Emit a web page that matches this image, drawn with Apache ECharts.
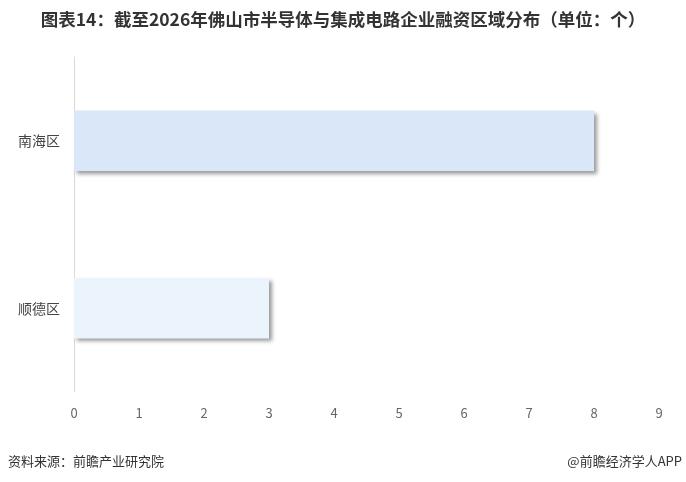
<!DOCTYPE html>
<html>
<head>
<meta charset="utf-8">
<script src="https://cdn.jsdelivr.net/npm/echarts@6/dist/echarts.min.js"></script>
<style>
html,body{margin:0;padding:0;background:#fff;}
#c{width:686px;height:482px;}
</style>
</head>
<body>
<div id="c"></div>
<script>
const categories = ['南海区', '顺德区'];
const values = [8, 3];
const xTicks = [0, 1, 2, 3, 4, 5, 6, 7, 8, 9];
const titleText = '图表14：截至2026年佛山市半导体与集成电路企业融资区域分布（单位：个）';
const sourceText = '资料来源：前瞻产业研究院';
const brandText = '@前瞻经济学人APP';

const barColors = ['#d9e7f9', '#ebf3fd'];
const cjk = '"Noto Sans CJK SC", "Noto Sans", sans-serif';

const chart = echarts.init(document.getElementById('c'));
chart.setOption({
  backgroundColor: '#fff',
  animation: false,
  title: {
    text: titleText,
    left: 'center',
    top: 6,
    textStyle: { fontFamily: cjk, fontSize: 17.5, fontWeight: 'bold', color: '#333' }
  },
  grid: { left: 74, right: 27, top: 57, bottom: 90, containLabel: false },
  xAxis: {
    type: 'value',
    min: xTicks[0],
    max: xTicks[xTicks.length - 1],
    interval: 1,
    axisLine: { show: false },
    axisTick: { show: false },
    splitLine: { show: false },
    axisLabel: { color: '#666', fontSize: 13, margin: 15, fontFamily: cjk }
  },
  yAxis: {
    type: 'category',
    data: categories,
    inverse: true,
    axisLine: { show: true, lineStyle: { color: '#d9d9d9', width: 1 } },
    axisTick: { show: false },
    axisLabel: { color: '#444', fontSize: 14, margin: 14, fontFamily: cjk }
  },
  series: [{
    type: 'bar',
    data: values.map((v, i) => ({ value: v, itemStyle: { color: barColors[i] } })),
    barWidth: '36%',
    itemStyle: {
      shadowColor: 'rgba(0,0,0,0.4)',
      shadowBlur: 4,
      shadowOffsetX: 3,
      shadowOffsetY: 3
    }
  }],
  graphic: [
    { type: 'text', left: 8, top: 455, style: { text: sourceText, fontSize: 13, fill: '#333', fontFamily: cjk } },
    { type: 'text', right: 4, top: 455, style: { text: brandText, fontSize: 13, fill: '#333', fontFamily: cjk } }
  ]
});
</script>
</body>
</html>
